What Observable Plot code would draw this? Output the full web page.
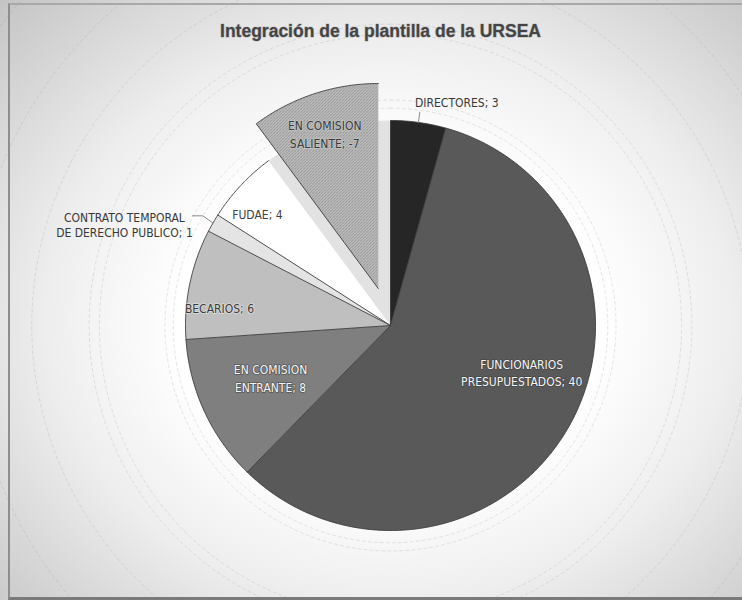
<!DOCTYPE html>
<html>
<head>
<meta charset="utf-8">
<script src="https://cdn.jsdelivr.net/npm/d3@7"></script>
<script src="https://cdn.jsdelivr.net/npm/@observablehq/plot@0.6"></script>
<style>
  html, body { margin: 0; padding: 0; background: #ffffff; }
  #wrap {
    position: relative; width: 742px; height: 600px; overflow: hidden;
    background: radial-gradient(ellipse farthest-corner at 390px 320px, #ffffff 0%, #ffffff 38%, #eeeeee 62%, #c4c4c4 100%);
  }
  #frame {
    position: absolute; left: 8px; top: 3px; width: 740px; height: 592px;
    border-left: 2px solid #8e8e8e; border-top: 2px solid #a8a8a8; border-bottom: 3px solid #7a7a7a;
    pointer-events: none;
  }
  #wrap svg { position: absolute; left: 0; top: 0; }
</style>
</head>
<body>
<div id="wrap"><div id="frame"></div></div>
<script>
// ---- data ----
const title = "Integración de la plantilla de la URSEA";
const categories = ["DIRECTORES", "FUNCIONARIOS PRESUPUESTADOS", "EN COMISION ENTRANTE", "BECARIOS", "CONTRATO TEMPORAL DE DERECHO PUBLICO", "FUDAE", "EN COMISION SALIENTE"];
const labelNames = ["DIRECTORES", "FUNCIONARIOS\nPRESUPUESTADOS", "EN COMISION\nENTRANTE", "BECARIOS", "CONTRATO TEMPORAL\nDE DERECHO PUBLICO", "FUDAE", "EN COMISION\nSALIENTE"];
const values = [3, 40, 8, 6, 1, 4, -7];
const colors = ["#262626", "#595959", "#7f7f7f", "#bfbfbf", "#e4e4e4", "#ffffff", "url(#salientePat)"];

// ---- layout config ----
const W = 742, H = 600, cx = 390, cy = 325, R = 205;
const explode = [0, 0, 0, 0, 0, 0, 0.19];
const labelR = [null, 0.679, 0.638, 0.839, null, 0.848, 0.800];
const labelNudge = [0, -10.5, 1.3, -5.7, 0, -3, -0.8];
const labelFill = ["#404040", "#f6f6f6", "#f6f6f6", "#3a3a3a", "#404040", "#404040", "#3a3a3a"];
const labelStroke = ["none", "#3a3a3a", "#3a3a3a", "#f0f0f0", "none", "none", "#d0d0d0"];

const rad = a => a * Math.PI / 180;
const pt = (a, r, o = [0, 0]) => ({x: o[0] + r * Math.sin(rad(a)), y: o[1] + r * Math.cos(rad(a))});

const total = d3.sum(values, v => Math.abs(v));
let acc = 0;
const slices = categories.map((c, i) => {
  const s = acc, e = acc + Math.abs(values[i]) / total * 360;
  acc = e;
  const mid = (s + e) / 2;
  const o = [explode[i] * Math.sin(rad(mid)), explode[i] * Math.cos(rad(mid))];
  return {c, i, s, e, mid, o, label: labelNames[i] + "; " + values[i]};
});

const wedgePts = [];
for (const sl of slices) {
  wedgePts.push({c: sl.c, ...pt(0, 0, sl.o)});
  const n = Math.max(2, Math.ceil((sl.e - sl.s) / 0.5));
  for (let k = 0; k <= n; k++) wedgePts.push({c: sl.c, ...pt(sl.s + (sl.e - sl.s) * k / n, 1, sl.o)});
}

const baseDisc = d3.range(0, 361, 1).map(a => pt(a, 1));
const rings = [1.06, 1.1, 1.42, 1.47, 1.75, 2.05, 2.4];
const ringPts = rings.flatMap(r => d3.range(0, 361, 1).map(a => ({r, ...pt(a, r)})));

// inside labels
const inside = slices.filter(s => labelR[s.i] != null).map(s => ({
  ...s, ...pt(s.mid + labelNudge[s.i], labelR[s.i], s.o)
}));

// outside labels with leader lines
const dir = slices[0], con = slices[4];
const dirA = pt(dir.mid, 1), dirB = pt(dir.mid, 1.05);
const conA = pt(con.mid, 1), conB = {x: conA.x - 0.05, y: conA.y + 0.035}, conC = {x: conB.x - 0.05, y: conB.y};
const leaders = [
  {k: "d", ...dirA}, {k: "d", ...dirB},
  {k: "c", ...conA}, {k: "c", ...conB}, {k: "c", ...conC}
];
const outside = [
  {label: dir.label, x: dirB.x + 37 / R, y: dirB.y + 9 / R},
  {label: con.label, x: conC.x - 68 / R, y: conC.y - 9 / R}
];

const font = "'Liberation Sans Narrow', 'DejaVu Sans Condensed', 'Liberation Sans', sans-serif";

const plot = Plot.plot({
  width: W, height: H, margin: 0,
  style: {background: "transparent", overflow: "visible"},
  x: {domain: [-cx / R, (W - cx) / R], range: [0, W], axis: null},
  y: {domain: [-(H - cy) / R, cy / R], range: [H, 0], axis: null},
  color: {type: "ordinal", domain: categories, range: colors},
  marks: [
    Plot.line(ringPts, {x: "x", y: "y", z: "r", stroke: "#8c8c8c", strokeOpacity: 0.28, strokeWidth: 0.8, strokeDasharray: "3,3"}),
    Plot.line(baseDisc, {x: "x", y: "y", fill: "#e2e2e2", stroke: "none"}),
    Plot.line(wedgePts, {x: "x", y: "y", z: "c", fill: "c", stroke: "#3c3c3c", strokeWidth: 0.9, strokeLinejoin: "round"}),
    Plot.line(leaders, {x: "x", y: "y", z: "k", stroke: "#8a8a8a", strokeWidth: 1}),
    Plot.text(inside, {x: "x", y: "y", text: "label", fill: d => labelFill[d.i], stroke: d => labelStroke[d.i],
      strokeWidth: 1.6, strokeOpacity: 0.6, fontSize: 12, fontFamily: font, lineHeight: 1.45}),
    Plot.text(outside.slice(0, 1), {x: "x", y: "y", text: "label", fill: "#383838", fontSize: 12, fontFamily: font}),
    Plot.text(outside.slice(1), {x: "x", y: "y", text: "label", fill: "#383838", fontSize: 12, fontFamily: font, lineHeight: 1.25}),
    Plot.text([title], {frameAnchor: "top", dx: 9, dy: 24, text: d => d, fill: "#444444", stroke: "#bbbbbb",
      strokeWidth: 1.2, fontSize: 17.5, fontWeight: "bold", fontFamily: "'Liberation Sans', Arial, sans-serif"})
  ]
});

const svg = d3.select(plot);
const defs = svg.insert("defs", ":first-child");
const pat = defs.append("pattern").attr("id", "salientePat").attr("patternUnits", "userSpaceOnUse")
  .attr("width", 3).attr("height", 3);
pat.append("rect").attr("width", 3).attr("height", 3).attr("fill", "#c8c8c8");
pat.append("rect").attr("x", 0).attr("y", 0).attr("width", 1).attr("height", 1).attr("fill", "#6e6e6e");
pat.append("rect").attr("x", 2).attr("y", 1).attr("width", 1).attr("height", 1).attr("fill", "#8a8a8a");
pat.append("rect").attr("x", 1).attr("y", 2).attr("width", 1).attr("height", 1).attr("fill", "#7a7a7a");

document.getElementById("wrap").prepend(plot);
</script>
</body>
</html>
